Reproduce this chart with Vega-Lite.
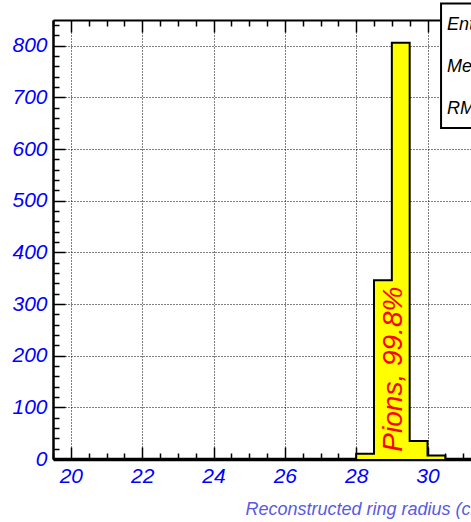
{
  "$schema": "https://vega.github.io/schema/vega-lite/v6.json",
  "usermeta": {"embedOptions": {"actions": false}},
  "autosize": {"type": "none"},
  "width": 428,
  "height": 439,
  "padding": {"left": 53, "top": 20, "right": -10, "bottom": 63},
  "background": "white",
  "config": {"view": {"stroke": null}},
  "datasets": {
    "hist": [
      {"edge": 19.5, "count": 0}, {"edge": 20.0, "count": 0}, {"edge": 20.5, "count": 0},
      {"edge": 21.0, "count": 0}, {"edge": 21.5, "count": 0}, {"edge": 22.0, "count": 0},
      {"edge": 22.5, "count": 0}, {"edge": 23.0, "count": 0}, {"edge": 23.5, "count": 0},
      {"edge": 24.0, "count": 0}, {"edge": 24.5, "count": 0}, {"edge": 25.0, "count": 0},
      {"edge": 25.5, "count": 0}, {"edge": 26.0, "count": 0}, {"edge": 26.5, "count": 0},
      {"edge": 27.0, "count": 0}, {"edge": 27.5, "count": 0}, {"edge": 28.0, "count": 10},
      {"edge": 28.5, "count": 346}, {"edge": 29.0, "count": 806}, {"edge": 29.5, "count": 35},
      {"edge": 30.0, "count": 7}, {"edge": 30.5, "count": 0}, {"edge": 31.0, "count": 0},
      {"edge": 31.5, "count": 0}
    ],
    "single": [{}]
  },
  "layer": [
    {
      "data": {"name": "hist"},
      "mark": {"type": "area", "interpolate": "step-after", "color": "#ffff00", "opacity": 1},
      "encoding": {
        "x": {
          "field": "edge", "type": "quantitative",
          "scale": {"domain": [19.5, 31.5], "nice": false, "zero": false},
          "axis": {
            "orient": "bottom",
            "values": [19.5, 20, 20.5, 21, 21.5, 22, 22.5, 23, 23.5, 24, 24.5, 25, 25.5, 26, 26.5, 27, 27.5, 28, 28.5, 29, 29.5, 30, 30.5, 31, 31.5],
            "labelExpr": "datum.value % 2 === 0 ? format(datum.value, 'd') : ''",
            "labelFont": "Liberation Sans",
            "labelFontSize": 21,
            "labelFontStyle": "italic",
            "labelColor": "#0000ff",
            "labelPadding": 18,
            "labelFlush": false,
            "labelOverlap": false,
            "labelBaseline": "top",
            "tickSize": {"condition": {"test": "datum.value % 2 === 0", "value": -12}, "value": -6},
            "tickColor": "black",
            "tickWidth": 1.5,
            "domainColor": "black",
            "domainWidth": 3.5,
            "grid": true,
            "gridColor": "black",
            "gridDash": [1, 2],
            "gridWidth": 1,
            "gridOpacity": {"condition": {"test": "datum.value % 2 === 0", "value": 1}, "value": 0},
            "title": "Reconstructed ring radius (cm)",
            "titleFont": "Liberation Sans",
            "titleFontSize": 18,
            "titleFontStyle": "italic",
            "titleFontWeight": "normal",
            "titleColor": "#5a5ae0",
            "titleAnchor": "end",
            "titleAlign": "right",
            "titleBaseline": "alphabetic",
            "titleX": 438,
            "titleY": 55
          }
        },
        "y": {
          "field": "count", "type": "quantitative", "stack": null,
          "scale": {"domain": [0, 850], "nice": false},
          "axis": {
            "orient": "left",
            "values": [0, 20, 40, 60, 80, 100, 120, 140, 160, 180, 200, 220, 240, 260, 280, 300, 320, 340, 360, 380, 400, 420, 440, 460, 480, 500, 520, 540, 560, 580, 600, 620, 640, 660, 680, 700, 720, 740, 760, 780, 800, 820, 840],
            "labelExpr": "datum.value % 100 === 0 ? format(datum.value, 'd') : ''",
            "labelFont": "Liberation Sans",
            "labelFontSize": 21,
            "labelFontStyle": "italic",
            "labelColor": "#0000ff",
            "labelPadding": 18,
            "labelFlush": false,
            "labelOverlap": false,
            "labelBaseline": "middle",
            "tickSize": {"condition": {"test": "datum.value % 100 === 0", "value": -12}, "value": -6},
            "tickColor": "black",
            "tickWidth": 1.5,
            "domainColor": "black",
            "domainWidth": 2.5,
            "grid": true,
            "gridColor": "black",
            "gridDash": [1, 2],
            "gridWidth": 1,
            "gridOpacity": {"condition": {"test": "datum.value % 100 === 0 && datum.value > 0", "value": 1}, "value": 0},
            "title": null
          }
        }
      }
    },
    {
      "data": {"name": "hist"},
      "mark": {"type": "line", "interpolate": "step-after", "color": "black", "strokeWidth": 2},
      "encoding": {
        "x": {
          "field": "edge", "type": "quantitative",
          "scale": {"domain": [19.5, 31.5], "nice": false, "zero": false},
          "axis": {
            "orient": "top",
            "values": [19.5, 20, 20.5, 21, 21.5, 22, 22.5, 23, 23.5, 24, 24.5, 25, 25.5, 26, 26.5, 27, 27.5, 28, 28.5, 29, 29.5, 30, 30.5, 31, 31.5],
            "labels": false,
            "grid": false,
            "title": null,
            "tickSize": {"condition": {"test": "datum.value % 2 === 0", "value": -12}, "value": -6},
            "tickColor": "black",
            "tickWidth": 1.5,
            "domainColor": "black",
            "domainWidth": 2
          }
        },
        "y": {
          "field": "count", "type": "quantitative",
          "scale": {"domain": [0, 850], "nice": false},
          "axis": null
        }
      }
    },
    {
      "data": {"name": "single"},
      "mark": {"type": "rect", "fill": "white", "stroke": "black", "strokeWidth": 2},
      "encoding": {
        "x": {"datum": 30.38, "type": "quantitative", "scale": {"domain": [19.5, 31.5], "nice": false, "zero": false}, "axis": null},
        "x2": {"datum": 33},
        "y": {"datum": 641, "type": "quantitative", "scale": {"domain": [0, 850], "nice": false}, "axis": null},
        "y2": {"datum": 882}
      }
    },
    {
      "data": {"name": "single"},
      "mark": {
        "type": "text", "align": "left", "baseline": "alphabetic",
        "font": "Liberation Sans", "fontSize": 18, "fontStyle": "italic",
        "lineHeight": 42, "color": "black"
      },
      "encoding": {
        "x": {"datum": 30.55, "type": "quantitative", "scale": {"domain": [19.5, 31.5], "nice": false, "zero": false}, "axis": null},
        "y": {"datum": 830, "type": "quantitative", "scale": {"domain": [0, 850], "nice": false}, "axis": null},
        "text": {"value": ["Entries", "Mean", "RMS"]}
      }
    },
    {
      "data": {"name": "single"},
      "mark": {
        "type": "text", "align": "center", "baseline": "middle", "angle": 270,
        "font": "Liberation Sans", "fontSize": 28, "fontStyle": "italic",
        "color": "#ff0000"
      },
      "encoding": {
        "x": {"datum": 29.05, "type": "quantitative", "scale": {"domain": [19.5, 31.5], "nice": false, "zero": false}, "axis": null},
        "y": {"datum": 174, "type": "quantitative", "scale": {"domain": [0, 850], "nice": false}, "axis": null},
        "text": {"value": "Pions, 99.8%"}
      }
    }
  ],
  "resolve": {"axis": {"x": "independent", "y": "independent"}}
}
